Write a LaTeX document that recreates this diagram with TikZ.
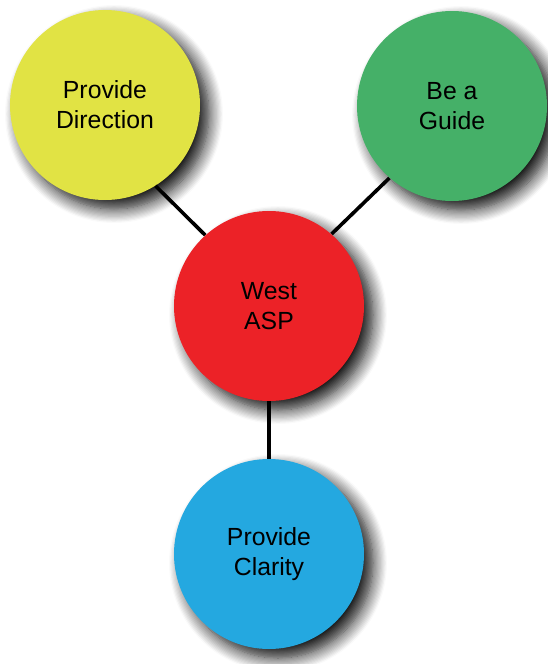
\documentclass[tikz,border=0pt]{standalone}
\usepackage{fontspec}
\setsansfont{Liberation Sans}
\usetikzlibrary{shadows.blur}

\definecolor{ideaYellow}{RGB}{225,227,68}
\definecolor{ideaGreen}{RGB}{69,176,104}
\definecolor{ideaRed}{RGB}{236,34,39}
\definecolor{ideaBlue}{RGB}{36,168,224}

\begin{document}
\begin{tikzpicture}[
x=0.5pt, y=-0.5pt,
font=\sffamily\fontsize{12.4}{15}\selectfont,
goal/.style={circle,draw=none,inner sep=0pt,minimum size=95pt,align=center,
  blur shadow={shadow xshift=4.5pt,shadow yshift=-4.5pt,shadow blur radius=7pt,
    shadow blur steps=12,shadow opacity=95}},
link/.style={line width=1.8pt}
]
\useasboundingbox (0,0) rectangle (547,664);
\node[goal,fill=ideaYellow] (direction) at (105,105) {Provide\\Direction};
\node[goal,fill=ideaGreen] (guide) at (452,106) {Be a\\Guide};
\node[goal,fill=ideaRed] (west) at (269,306) {West\\ASP};
\node[goal,fill=ideaBlue] (clarity) at (269,554) {Provide\\Clarity};
\draw[link] (direction.-58) -- (west.132);
\draw[link] (guide.-131) -- (west.49);
\draw[link] (west.south) -- (clarity.north);

\end{tikzpicture}
\end{document}
